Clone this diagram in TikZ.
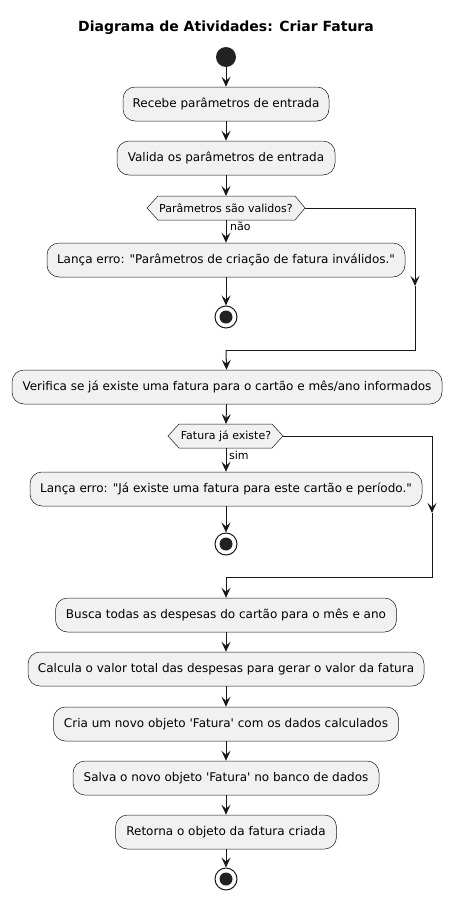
\documentclass[tikz,border=0pt]{standalone}
\usepackage{fontspec}
\setmainfont{DejaVu Sans}[Ligatures=TeXOff]
\usetikzlibrary{arrows.meta,calc}
\definecolor{boxfill}{HTML}{F1F1F1}
\definecolor{ink}{HTML}{181818}
\definecolor{dot}{HTML}{222222}
\tikzset{
  act/.style={draw=ink, line width=0.5pt, fill=boxfill, rounded corners=12pt,
    minimum height=34pt, inner xsep=9pt, inner ysep=0pt, align=center,
    font=\fontsize{12}{14}\selectfont, text=black},
  hexbox/.style={draw=ink, line width=0.5pt, fill=boxfill},
  hextext/.style={inner sep=0pt, font=\fontsize{11}{13}\selectfont},
  flow/.style={draw=ink, line width=1pt, -{Stealth[length=10pt,width=9pt,inset=4pt]}},
  line/.style={draw=ink, line width=1pt},
  lbl/.style={inner sep=0pt, anchor=west, font=\fontsize{11}{13}\selectfont},
  startdot/.style={circle, fill=dot, minimum size=20pt, inner sep=0pt},
  stopring/.style={circle, draw=ink, line width=1pt, fill=white, minimum size=22pt, inner sep=0pt},
}
\begin{document}
\begin{tikzpicture}[x=1pt,y=-1pt]
\useasboundingbox (0,0) rectangle (456,900);
\node[font=\bfseries\fontsize{14}{16}\selectfont] (title) at (226,28) {Diagrama de Atividades: Criar Fatura};

\node[startdot] (start) at (226,57) {};
\node[act, minimum width=206pt] (a1) at (226,104) {Recebe parâmetros de entrada};
\node[act, minimum width=218pt] (a2) at (226,158) {Valida os parâmetros de entrada};

% decision 1
\draw[hexbox] (147,208) -- (158,196) -- (295,196) -- (305,208) -- (295,220) -- (158,220) -- cycle;
\node[hextext] (d1) at (226,208) {Parâmetros são validos?};
\coordinate (d1n) at (226,196);
\coordinate (d1s) at (226,220);
\coordinate (d1e) at (305,208);
\node[act, minimum width=358pt] (e1) at (226,260) {Lança erro: "Parâmetros de criação de fatura inválidos."};
\node[stopring] (s1) at (226,317) {};
\fill[dot] (s1) circle (6.5pt);
\coordinate (r1) at (415,286);
\coordinate (m1) at (226,350);

\node[act, minimum width=430pt] (a3) at (227,387) {Verifica se já existe uma fatura para o cartão e mês/ano informados};

% decision 2
\draw[hexbox] (168,436) -- (179,424) -- (272,424) -- (283,436) -- (272,448) -- (179,448) -- cycle;
\node[hextext] (d2) at (226,436) {Fatura já existe?};
\coordinate (d2n) at (226,424);
\coordinate (d2s) at (226,448);
\coordinate (d2e) at (283,436);
\node[act, minimum width=392pt] (e2) at (226,489) {Lança erro: "Já existe uma fatura para este cartão e período."};
\node[stopring] (s2) at (226,544) {};
\fill[dot] (s2) circle (6.5pt);
\coordinate (r2) at (432,513);
\coordinate (m2) at (226,577);

\node[act, minimum width=341pt] (a4) at (226,615) {Busca todas as despesas do cartão para o mês e ano};
\node[act, minimum width=396pt] (a5) at (226,669) {Calcula o valor total das despesas para gerar o valor da fatura};
\node[act, minimum width=345pt] (a6) at (226,724) {Cria um novo objeto 'Fatura' com os dados calculados};
\node[act, minimum width=306pt] (a7) at (226,778) {Salva o novo objeto 'Fatura' no banco de dados};
\node[act, minimum width=221pt] (a8) at (226,832) {Retorna o objeto da fatura criada};
\node[stopring] (s3) at (226,879) {};
\fill[dot] (s3) circle (6.5pt);

% connectors
\draw[flow] (start) -- (a1);
\draw[flow] (a1) -- (a2);
\draw[flow] (a2) -- (d1n);
\draw[flow] (d1s) -- (e1);
\node[lbl] (l1) at (230,226) {não};
\draw[flow] (e1) -- (s1);
\draw[flow] (d1e) -| (r1);
\draw[line] (r1) |- (m1);
\draw[flow] (m1) -- (a3);
\draw[flow] (a3) -- (d2n);
\draw[flow] (d2s) -- (e2);
\node[lbl] (l2) at (229,455) {sim};
\draw[flow] (e2) -- (s2);
\draw[flow] (d2e) -| (r2);
\draw[line] (r2) |- (m2);
\draw[flow] (m2) -- (a4);
\draw[flow] (a4) -- (a5);
\draw[flow] (a5) -- (a6);
\draw[flow] (a6) -- (a7);
\draw[flow] (a7) -- (a8);
\draw[flow] (a8) -- (s3);
\end{tikzpicture}
\end{document}
